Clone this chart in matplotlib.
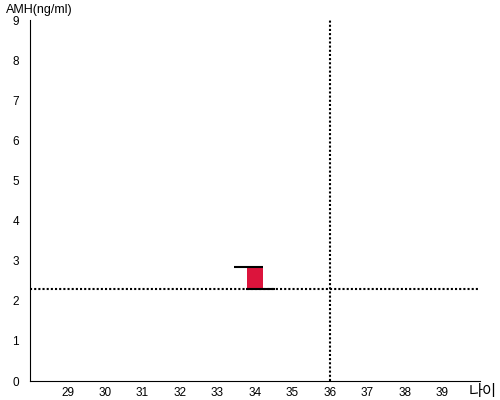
import matplotlib
matplotlib.use('Agg')
import matplotlib.pyplot as plt

plt.rcParams['font.family'] = ['Liberation Sans', 'Noto Sans CJK KR', 'DejaVu Sans']

# 데이터
나이_눈금 = [29, 30, 31, 32, 33, 34, 35, 36, 37, 38, 39]
amh_눈금 = [0, 1, 2, 3, 4, 5, 6, 7, 8, 9]
기준_나이 = 36
기준_amh = 2.3
측정_나이 = 34
측정_amh = 2.85

fig = plt.figure(figsize=(5, 4), dpi=100)
ax = fig.add_axes([0.06, 0.0475, 0.90, 0.9025])

ax.set_xlim(28, 40)
ax.set_ylim(0, 9)

# 막대 (기준선에서 측정값까지)
ax.bar(측정_나이, 측정_amh - 기준_amh, bottom=기준_amh, width=0.42,
       color='#dc143c', zorder=3)
ax.hlines(측정_amh, 측정_나이 - 0.56, 측정_나이 + 0.2, color='black', lw=1.5, zorder=4)
ax.hlines(기준_amh, 측정_나이 - 0.24, 측정_나이 + 0.52, color='black', lw=1.5, zorder=4)

# 기준 점선
ax.axhline(기준_amh, color='black', lw=1.5, dashes=(1, 1), zorder=2)
ax.axvline(기준_나이, color='black', lw=1.5, dashes=(1, 1), zorder=2)

ax.set_xticks(나이_눈금)
ax.set_yticks(amh_눈금)
ax.tick_params(length=0, labelsize=8.5)
ax.tick_params(axis='x', pad=4)
ax.tick_params(axis='y', pad=8)
for s in ['top', 'right']:
    ax.spines[s].set_visible(False)

fig.text(0.012, 0.975, 'AMH(ng/ml)', fontsize=9, va='center', ha='left')
fig.text(0.994, 0.022, '나이', fontsize=11, va='center', ha='right',
         family=['Noto Sans CJK KR', 'DejaVu Sans'])

plt.savefig('out.png')
